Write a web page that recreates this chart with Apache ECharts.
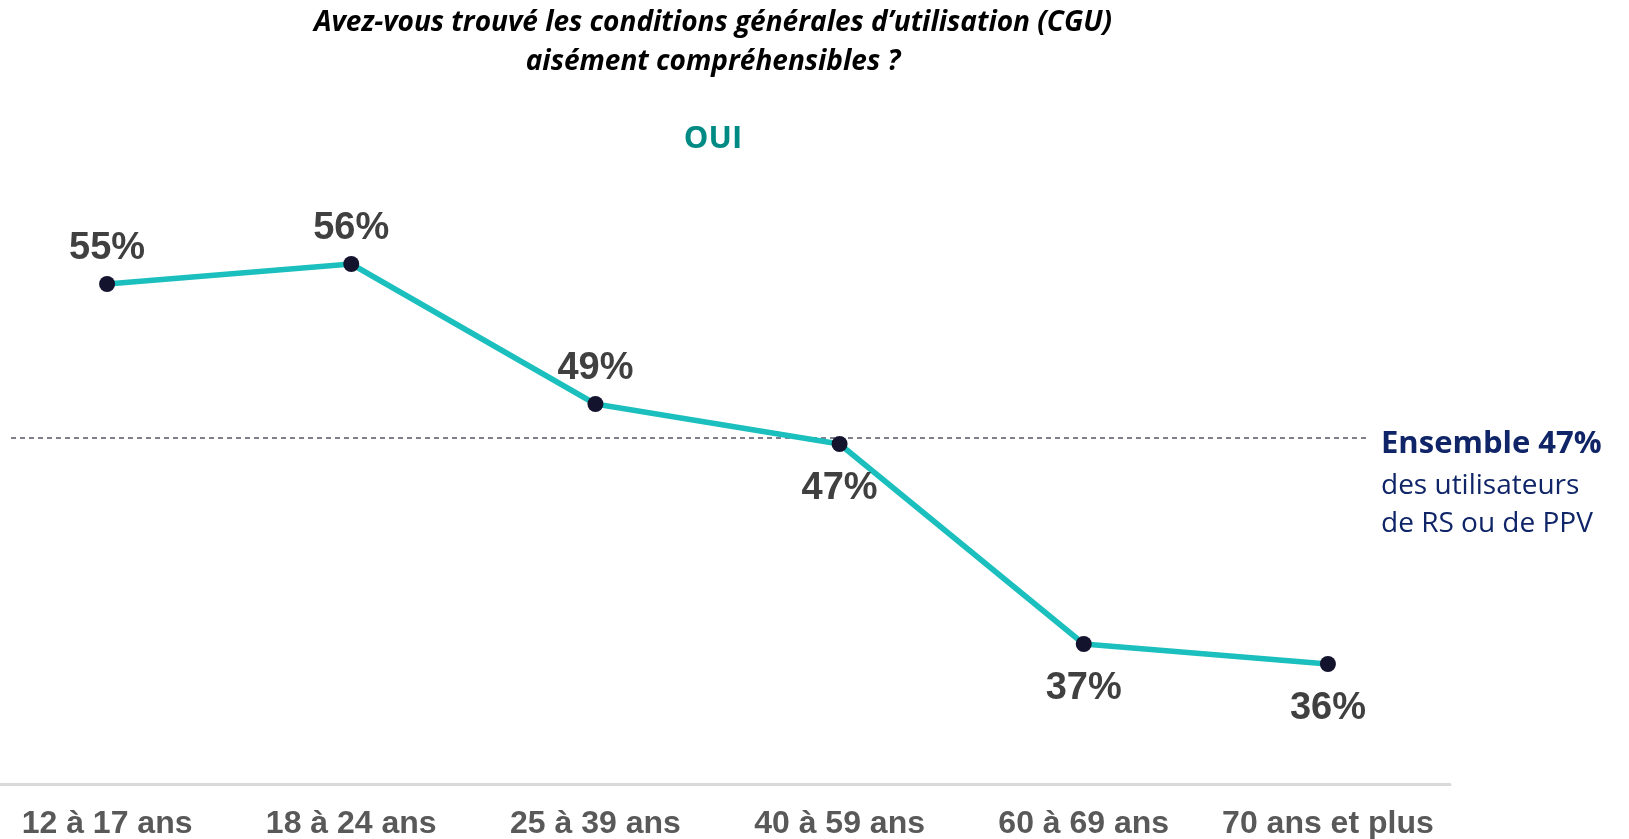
<!DOCTYPE html>
<html>
<head>
<meta charset="utf-8">
<script src="https://cdn.jsdelivr.net/npm/echarts@6/dist/echarts.min.js"></script>
<style>
  html, body { margin: 0; padding: 0; background: #fff; }
  #chart { width: 1629px; height: 839px; }
</style>
</head>
<body>
<div id="chart"></div>
<script>
// données
const ageGroups = ["12 à 17 ans", "18 à 24 ans", "25 à 39 ans", "40 à 59 ans", "60 à 69 ans", "70 ans et plus"];
const ouiValues = [55, 56, 49, 47, 37, 36];
const ensembleLevel = 47.3;
const ensembleText = ["Ensemble 47%", "des utilisateurs", "de RS ou de PPV"];
const titleLines = ["Avez-vous trouvé les conditions générales d’utilisation (CGU)", "aisément compréhensibles ?"];
const subTitle = "OUI";

// étiquettes sous le point pour ces index
const labelsBelow = [3, 4, 5];

const chart = echarts.init(document.getElementById("chart"));

const option = {
  backgroundColor: "#fff",
  animation: false,
  grid: [
    { left: -15, right: 179, top: 184, bottom: 55, outerBoundsMode: "none" },
    { left: 11, right: 262, top: 184, bottom: 55, outerBoundsMode: "none" },
  ],
  xAxis: [
    {
      type: "category",
      gridIndex: 0,
      data: ageGroups,
      boundaryGap: true,
      axisTick: { show: false },
      axisLine: { lineStyle: { color: "#d9d9d9", width: 3 } },
      axisLabel: {
        interval: 0,
        margin: 24,
        color: "#595959",
        fontFamily: "Liberation Sans, Arial",
        fontWeight: "bold",
        fontSize: 32,
      },
    },
    {
      type: "category",
      gridIndex: 1,
      data: ["", ""],
      boundaryGap: false,
      show: false,
    },
  ],
  yAxis: [
    { type: "value", gridIndex: 0, min: 30, max: 60, show: false, splitLine: { show: false } },
    { type: "value", gridIndex: 1, min: 30, max: 60, show: false, splitLine: { show: false } },
  ],
  series: [
    {
      name: "Ensemble",
      type: "line",
      xAxisIndex: 1,
      yAxisIndex: 1,
      data: [ensembleLevel, ensembleLevel],
      symbol: "none",
      z: 1,
      lineStyle: { color: "#55556a", width: 1.5, type: [5, 4] },
    },
    {
      name: "OUI",
      type: "line",
      xAxisIndex: 0,
      yAxisIndex: 0,
      z: 3,
      data: ouiValues.map((v, i) => ({
        value: v,
        label: labelsBelow.includes(i)
          ? { position: "bottom", distance: 18 }
          : { position: "top", distance: 8 },
      })),
      symbol: "circle",
      symbolSize: 16,
      itemStyle: { color: "#14132e" },
      lineStyle: { color: "#1bbfbd", width: 5.5 },
      label: {
        show: true,
        formatter: "{c}%",
        color: "#404040",
        fontFamily: "Liberation Sans, Arial",
        fontWeight: "bold",
        fontSize: 38,
      },
    },
  ],
  graphic: [
    {
      type: "text",
      x: 713,
      y: 23,
      style: {
        text: titleLines[0],
        font: "italic bold 28px 'Open Sans'",
        fill: "#000",
        align: "center",
        verticalAlign: "middle",
      },
    },
    {
      type: "text",
      x: 713,
      y: 62,
      style: {
        text: titleLines[1],
        font: "italic bold 28px 'Open Sans'",
        fill: "#000",
        align: "center",
        verticalAlign: "middle",
      },
    },
    {
      type: "text",
      x: 713,
      y: 139,
      style: {
        text: subTitle,
        font: "bold 31px 'Open Sans'",
        fill: "#008a84",
        align: "center",
        verticalAlign: "middle",
      },
    },
    {
      type: "text",
      x: 1381,
      y: 444,
      style: {
        text: ensembleText[0],
        font: "bold 31px 'Open Sans'",
        fill: "#0f2567",
        align: "left",
        verticalAlign: "middle",
      },
    },
    {
      type: "text",
      x: 1381,
      y: 486,
      style: {
        text: ensembleText[1],
        font: "28px 'Open Sans'",
        fill: "#0f2567",
        align: "left",
        verticalAlign: "middle",
      },
    },
    {
      type: "text",
      x: 1381,
      y: 524,
      style: {
        text: ensembleText[2],
        font: "28px 'Open Sans'",
        fill: "#0f2567",
        align: "left",
        verticalAlign: "middle",
      },
    },
  ],
};

chart.setOption(option);
</script>
</body>
</html>
